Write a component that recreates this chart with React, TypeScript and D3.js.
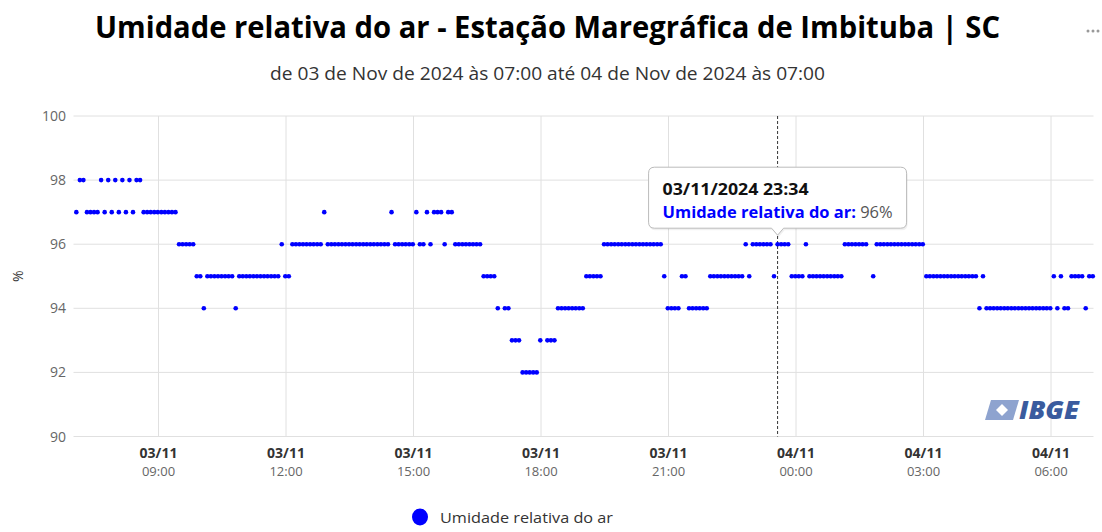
import React from "react";
import * as d3 from "d3";

// ---- data ----
const titleText = "Umidade relativa do ar - Estação Maregráfica de Imbituba | SC";
const subtitleText = "de 03 de Nov de 2024 às 07:00 até 04 de Nov de 2024 às 07:00";
const seriesName = "Umidade relativa do ar";
const startTime = new Date(2024, 10, 3, 7, 4);
const stepMinutes = 5;
// one row per hour, 5-minute readings (%)
const humidity: (number | null)[] = [
  97, 98, 98, 97, 97, 97, 97, 98, 97, 98, 97, 98,
  97, 98, 97, 98, 97, 98, 98, 97, 97, 97, 97, 97,
  97, 97, 97, 97, 97, 96, 96, 96, 96, 96, 95, 95,
  94, 95, 95, 95, 95, 95, 95, 95, 95, 94, 95, 95,
  95, 95, 95, 95, 95, 95, 95, 95, 95, 95, 96, 95,
  95, 96, 96, 96, 96, 96, 96, 96, 96, 96, 97, 96,
  96, 96, 96, 96, 96, 96, 96, 96, 96, 96, 96, 96,
  96, 96, 96, 96, 96, 97, 96, 96, 96, 96, 96, 96,
  97, 96, 96, 97, 96, 97, 97, 97, 96, 97, 97, 96,
  96, 96, 96, 96, 96, 96, 96, 95, 95, 95, 95, 94,
  null, 94, 94, 93, 93, 93, 92, 92, 92, 92, 92, 93,
  null, 93, 93, 93, 94, 94, 94, 94, 94, 94, 94, 94,
  95, 95, 95, 95, 95, 96, 96, 96, 96, 96, 96, 96,
  96, 96, 96, 96, 96, 96, 96, 96, 96, 96, 95, 94,
  94, 94, 94, 95, 95, 94, 94, 94, 94, 94, 94, 95,
  95, 95, 95, 95, 95, 95, 95, 95, 95, 96, 95, 96,
  96, 96, 96, 96, 96, 95, 96, 96, 96, 96, 95, 95,
  95, 95, 96, 95, 95, 95, 95, 95, 95, 95, 95, 95,
  95, 96, 96, 96, 96, 96, 96, 96, null, 95, 96, 96,
  96, 96, 96, 96, 96, 96, 96, 96, 96, 96, 96, 96,
  95, 95, 95, 95, 95, 95, 95, 95, 95, 95, 95, 95,
  95, 95, 95, 94, 95, 94, 94, 94, 94, 94, 94, 94,
  94, 94, 94, 94, 94, 94, 94, 94, 94, 94, 94, 94,
  95, 94, 95, 94, 94, 95, 95, 95, 95, 94, 95, 95,
];
const yTicks = [90, 92, 94, 96, 98, 100];
const xTickHours = [9, 12, 15, 18, 21, 24, 27, 30];
const tooltipIndex = 198;

const points = humidity
  .map((v, i) => ({ t: new Date(startTime.getTime() + i * stepMinutes * 60000), v }))
  .filter((d) => d.v !== null) as { t: Date; v: number }[];

export default function App() {
  const W = 1102, H = 532;
  const domainStart = new Date(2024, 10, 3, 7, 0);
  const domainEnd = new Date(2024, 10, 4, 7, 0);
  const x = d3.scaleTime().domain([domainStart, domainEnd]).range([73.5, 1093.5]);
  const y = d3.scaleLinear().domain([90, 100]).range([436.5, 116]);
  const blue = "#0000ff";
  const font = "'Open Sans', 'Noto Sans', sans-serif";
  const xTicks = xTickHours.map((h) => new Date(2024, 10, 3, h, 0));
  const fmtDay = d3.timeFormat("%d/%m");
  const fmtHour = d3.timeFormat("%H:%M");
  const fmtTip = d3.timeFormat("%d/%m/%Y %H:%M");

  const tipT = new Date(startTime.getTime() + tooltipIndex * stepMinutes * 60000);
  const tipV = humidity[tooltipIndex] as number;
  const tx = x(tipT);
  const ty = y(tipV);
  const boxW = 258, boxH = 61;
  const bx = tx - 129, byBottom = ty - 16, by = byBottom - boxH;
  const [x0, x1] = x.range();
  const tipPath = `M${bx + 6},${by} H${bx + boxW - 6} Q${bx + boxW},${by} ${bx + boxW},${by + 6} V${byBottom - 6} Q${bx + boxW},${byBottom} ${bx + boxW - 6},${byBottom} H${tx + 6} L${tx},${byBottom + 7} L${tx - 6},${byBottom} H${bx + 6} Q${bx},${byBottom} ${bx},${byBottom - 6} V${by + 6} Q${bx},${by} ${bx + 6},${by} Z`;

  return (
    <svg width={W} height={H} style={{ position: "absolute", left: 0, top: 0, background: "#fff" }} fontFamily={font}>
      <rect width={W} height={H} fill="#fff" />
      <text x={95} y={38} fontSize={31} fontWeight={700} fill="#000" textLength={905} lengthAdjust="spacingAndGlyphs">{titleText}</text>
      <text x={270} y={80} fontSize={18} fill="#333" textLength={555} lengthAdjust="spacingAndGlyphs">{subtitleText}</text>
      {[0, 1, 2].map((k) => (
        <circle key={k} cx={1088 + k * 5} cy={31} r={1.5} fill="#999" />
      ))}

      {/* grid */}
      {yTicks.map((v) => (
        <line key={v} x1={x0} x2={x1} y1={y(v)} y2={y(v)} stroke="#e0e0e0" strokeWidth={1} />
      ))}
      {xTicks.map((t, i) => (
        <line key={i} x1={x(t)} x2={x(t)} y1={y(100)} y2={y(90)} stroke="#e0e0e0" strokeWidth={1} />
      ))}

      {/* y labels */}
      {yTicks.map((v) => (
        <text key={v} x={66} y={y(v) + 5} fontSize={14} fill="#666" textAnchor="end">{v}</text>
      ))}
      <text transform={`translate(23,${(y(90) + y(100)) / 2}) rotate(-90)`} fontSize={14} fill="#333" textAnchor="middle">%</text>

      {/* x labels */}
      {xTicks.map((t, i) => (
        <g key={i}>
          <text x={x(t)} y={458} fontSize={14} fontWeight={700} fill="#333" textAnchor="middle">{fmtDay(t)}</text>
          <text x={x(t)} y={476} fontSize={13} fill="#666" textAnchor="middle">{fmtHour(t)}</text>
        </g>
      ))}

      {/* crosshair */}
      <line x1={tx} x2={tx} y1={y(100)} y2={y(90)} stroke="#333" strokeWidth={1} strokeDasharray="3,2" />

      {/* points */}
      {points.map((d, i) => (
        <circle key={i} cx={x(d.t)} cy={y(d.v)} r={2.3} fill={blue} />
      ))}

      {/* IBGE logo */}
      <g transform="translate(985,398)">
        <path d="M6,2 L34,2 L28,22 L0,22 Z" fill="#8ea3cf" />
        <path d="M17,6 L23,12 L17,18 L11,12 Z" fill="#fff" />
        <text x={34} y={21} fontSize={24} fontWeight={900} fontStyle="italic" fill="#3a5b9e" textLength={60} lengthAdjust="spacingAndGlyphs">IBGE</text>
      </g>

      {/* tooltip */}
      <g>
        <path d={tipPath} fill="rgba(0,0,0,0.06)" transform="translate(1,2)" />
        <path d={tipPath} fill="#fff" stroke="#bbb" strokeWidth={1} />
        <text x={bx + 14} y={by + 28} fontSize={16} fontWeight={700} fill="#111" textLength={146} lengthAdjust="spacingAndGlyphs">{fmtTip(tipT)}</text>
        <text x={bx + 14} y={by + 51} fontSize={16} textLength={230} lengthAdjust="spacingAndGlyphs">
          <tspan fill={blue} fontWeight={700}>{seriesName}: </tspan>
          <tspan fill="#555">{tipV}%</tspan>
        </text>
      </g>

      {/* legend */}
      <ellipse cx={420} cy={517} rx={8} ry={8.5} fill={blue} />
      <text x={440} y={523} fontSize={15} fill="#333" textLength={173} lengthAdjust="spacingAndGlyphs">{seriesName}</text>
    </svg>
  );
}
